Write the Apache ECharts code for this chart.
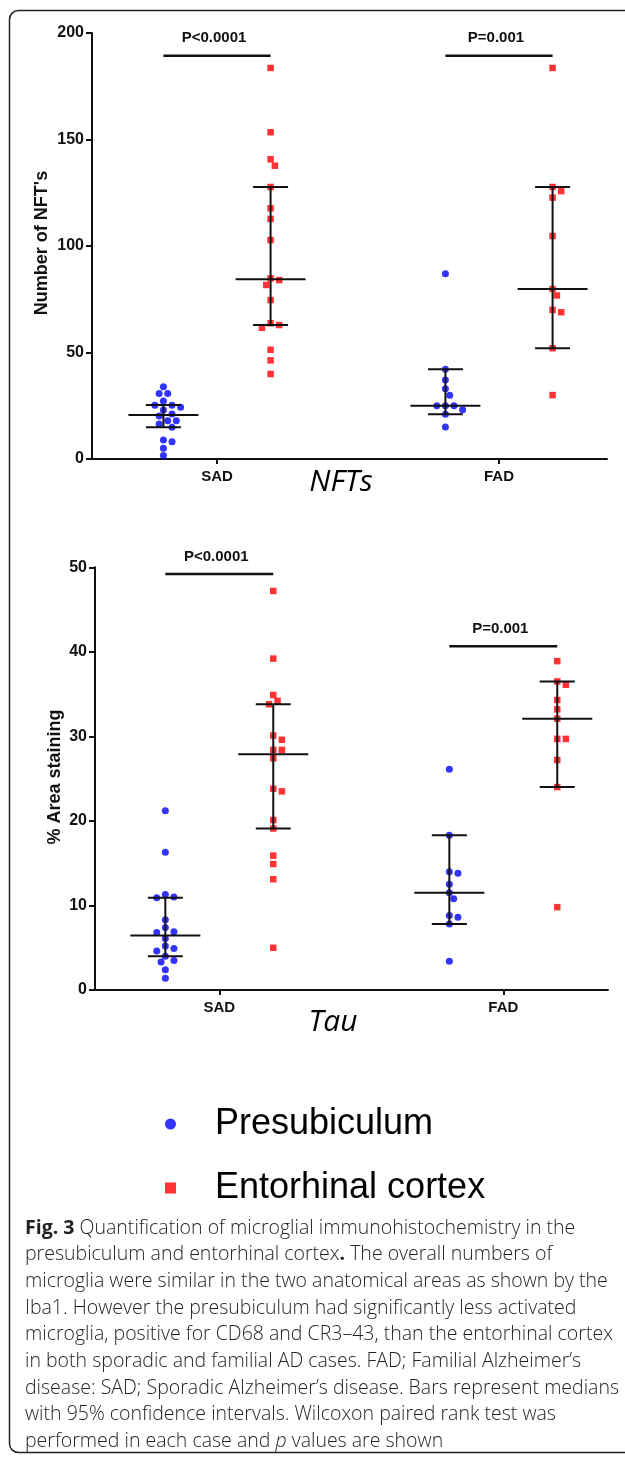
<!DOCTYPE html>
<html><head><meta charset="utf-8">
<script src="https://cdn.jsdelivr.net/npm/echarts@6/dist/echarts.min.js"></script>
<style>html,body{margin:0;padding:0;background:#fff}#c{width:625px;height:1457px}</style>
</head><body><div id="c"></div>
<script>
// ---------- DATA ----------
const groups = ['SAD', 'FAD'];
const seriesNames = ['Presubiculum', 'Entorhinal cortex'];

// Panel 1: NFTs (Number of NFT's)
const nftTicks = [0, 50, 100, 150, 200];
const nftPresSAD = [33.9, 30.8, 30.8, 27.2, 25.2, 25.2, 24.3, 23.0, 21.1, 20.2, 18.0, 18.0, 16.4, 14.9, 8.9, 8.1, 5.0, 1.7];
const nftEntSAD  = [183.6, 153.4, 140.7, 137.7, 127.7, 117.7, 112.7, 102.8, 84.8, 84.0, 81.7, 74.6, 63.7, 62.9, 61.6, 51.3, 46.3, 39.9];
const nftPresFAD = [87.0, 42.1, 37.1, 33.0, 29.9, 25.0, 25.0, 25.0, 23.1, 21.0, 15.0];
const nftEntFAD  = [183.6, 127.7, 125.8, 122.7, 104.7, 79.8, 76.8, 70.0, 68.9, 52.0, 30.0];
const nftPresMedian = [20.7, 25.0];
const nftPresCI = [[14.9, 25.4], [21.0, 42.1]];
const nftEntMedian = [84.4, 79.8];
const nftEntCI = [[62.9, 127.7], [52.0, 127.7]];
const nftPLabels = ['P<0.0001', 'P=0.001'];
const nftPLevel = [189.3, 189.3];

// Panel 2: Tau (% Area staining)
const tauTicks = [0, 10, 20, 30, 40, 50];
const tauPresSAD = [21.2, 16.3, 11.3, 10.9, 11.0, 8.3, 7.4, 6.9, 6.8, 6.1, 5.2, 4.9, 4.6, 4.0, 3.3, 3.5, 2.4, 1.4];
const tauEntSAD  = [47.2, 39.2, 34.9, 34.2, 33.8, 30.1, 29.6, 28.4, 28.4, 27.4, 23.8, 23.5, 20.1, 19.1, 15.9, 14.9, 13.1, 5.0];
const tauPresFAD = [26.1, 18.3, 14.0, 13.8, 12.5, 11.5, 10.8, 8.8, 8.6, 7.8, 3.4];
const tauEntFAD  = [38.9, 36.5, 36.1, 34.3, 33.2, 32.1, 29.7, 29.7, 27.2, 24.0, 9.8];
const tauPresMedian = [6.45, 11.5];
const tauPresCI = [[4.0, 10.9], [7.8, 18.3]];
const tauEntMedian = [27.9, 32.1];
const tauEntCI = [[19.1, 33.8], [24.0, 36.5]];
const tauPLabels = ['P<0.0001', 'P=0.001'];
const tauPLevel = [49.2, 40.66];

const captionLines = [
  '{b|Fig. 3} Quantification of microglial immunohistochemistry in the',
  'presubiculum and entorhinal cortex{b|.} The overall numbers of',
  'microglia were similar in the two anatomical areas as shown by the',
  'Iba1. However the presubiculum had significantly less activated',
  'microglia, positive for CD68 and CR3\u201343, than the entorhinal cortex',
  'in both sporadic and familial AD cases. FAD; Familial Alzheimer\u2019s',
  'disease: SAD; Sporadic Alzheimer\u2019s disease. Bars represent medians',
  'with 95% confidence intervals. Wilcoxon paired rank test was',
  'performed in each case and {i|p} values are shown'
];

// ---------- LAYOUT / STYLE ----------
const OFF = 0.19;           // horizontal offset of each region within a group
const BLUE = '#0000ff', RED = '#ff0000', INK = '#111';
const AX = '"Liberation Sans", Arial, sans-serif';
const CAP = '"Open Sans", "Noto Sans", sans-serif';

const chart = echarts.init(document.getElementById('c'), null, {renderer: 'canvas'});

function groupPos(gi) { return gi + 1; }

function yAxisCfg(ticks, gridIndex) {
  return {
    type: 'value', gridIndex, min: ticks[0], max: ticks[ticks.length - 1], interval: ticks[1] - ticks[0],
    axisLine: {show: true, lineStyle: {color: INK, width: 2}},
    axisTick: {show: true, length: 6, lineStyle: {color: INK, width: 2}},
    axisLabel: {color: '#111', fontFamily: AX, fontWeight: 'bold', fontSize: 16, margin: 8},
    splitLine: {show: false}
  };
}
function xAxisCfg(gridIndex, min, max) {
  return {
    type: 'value', gridIndex, min, max,
    axisLine: {show: true, onZero: false, lineStyle: {color: INK, width: 2}},
    axisTick: {show: true, length: 5, lineStyle: {color: INK, width: 2}, customValues: [1, 2]},
    axisLabel: {show: true, customValues: [1, 2], formatter: v => groups[Math.round(v) - 1] || '',
      color: '#111', fontFamily: AX, fontWeight: 'bold', fontSize: 15, margin: 10},
    splitLine: {show: false}
  };
}

function errRender(params, api) {
  const x = api.value(0), med = api.value(1), lo = api.value(2), hi = api.value(3);
  const pm = api.coord([x, med]), pl = api.coord([x, lo]), ph = api.coord([x, hi]);
  const st = {stroke: INK, lineWidth: 2};
  return {type: 'group', children: [
    {type: 'line', shape: {x1: pl[0], y1: pl[1], x2: ph[0], y2: ph[1]}, style: st},
    {type: 'line', shape: {x1: pm[0] - 35, y1: pm[1], x2: pm[0] + 35, y2: pm[1]}, style: st},
    {type: 'line', shape: {x1: pl[0] - 17.5, y1: pl[1], x2: pl[0] + 17.5, y2: pl[1]}, style: st},
    {type: 'line', shape: {x1: ph[0] - 17.5, y1: ph[1], x2: ph[0] + 17.5, y2: ph[1]}, style: st}
  ]};
}
function sigRender(labels) {
  return function (params, api) {
    const x1 = api.value(0), x2 = api.value(1), y = api.value(2);
    const a = api.coord([x1, y]), b = api.coord([x2, y]);
    return {type: 'group', children: [
      {type: 'line', shape: {x1: a[0], y1: a[1], x2: b[0], y2: b[1]}, style: {stroke: INK, lineWidth: 2.5}},
      {type: 'text', style: {text: labels[params.dataIndex], x: (a[0] + b[0]) / 2 - 3, y: a[1] - 17.5,
        align: 'center', verticalAlign: 'middle', fill: '#111', font: 'bold 15px ' + AX}}
    ]};
  };
}

function errData(presMed, presCI, entMed, entCI) {
  const d = [];
  groups.forEach((g, i) => {
    d.push([groupPos(i) - OFF, presMed[i], presCI[i][0], presCI[i][1]]);
    d.push([groupPos(i) + OFF, entMed[i], entCI[i][0], entCI[i][1]]);
  });
  return d;
}
function sigData(level) {
  return groups.map((g, i) => [groupPos(i) - OFF, groupPos(i) + OFF, level[i]]);
}

const panels = [
  {grid: 0, pres: [nftPresSAD, nftPresFAD], ent: [nftEntSAD, nftEntFAD]},
  {grid: 1, pres: [tauPresSAD, tauPresFAD], ent: [tauEntSAD, tauEntFAD]}
];

function centerData(arrs, sign) {
  const d = [];
  arrs.forEach((arr, gi) => arr.forEach(v => d.push([groupPos(gi) + sign * OFF, v])));
  return d;
}

const scatterSeries = [];
panels.forEach(p => {
  scatterSeries.push({id: 'pres' + p.grid, name: seriesNames[0], type: 'scatter', xAxisIndex: p.grid, yAxisIndex: p.grid,
    symbol: 'circle', symbolSize: 7, itemStyle: {color: BLUE}, data: centerData(p.pres, -1), z: 3});
  scatterSeries.push({id: 'ent' + p.grid, name: seriesNames[1], type: 'scatter', xAxisIndex: p.grid, yAxisIndex: p.grid,
    symbol: 'rect', symbolSize: 6.5, itemStyle: {color: RED}, data: centerData(p.ent, 1), z: 3});
});

// caption font size fit
const mctx = document.createElement('canvas').getContext('2d');
mctx.font = '300 18px ' + CAP;
const capW = mctx.measureText(captionLines[2]).width;
const capSize = Math.max(14, Math.min(20, 18 * 583 / capW));

const graphics = [
  {type: 'rect', shape: {x: 9.5, y: 10.5, width: 700, height: 1442, r: 9}, style: {fill: 'none', stroke: '#222', lineWidth: 1.5}, z: 0},
  {type: 'text', x: 42.5, y: 243, rotation: Math.PI / 2, style: {text: "Number of NFT's", align: 'center', verticalAlign: 'middle',
    fill: '#111', font: 'bold 18px ' + AX}},
  {type: 'text', x: 55, y: 777, rotation: Math.PI / 2, style: {text: '% Area staining', align: 'center', verticalAlign: 'middle',
    fill: '#111', font: 'bold 18px ' + AX}},
  {type: 'text', x: 341, y: 482, style: {text: 'NFTs', align: 'center', verticalAlign: 'middle', fill: '#000',
    font: 'italic 30px ' + CAP}},
  {type: 'text', x: 333, y: 1022, style: {text: 'Tau', align: 'center', verticalAlign: 'middle', fill: '#000',
    font: 'italic 30px ' + CAP}}
];
captionLines.forEach((t, i) => {
  graphics.push({type: 'text', x: 25, y: 1228 + i * 26.7, style: {text: t, align: 'left', verticalAlign: 'middle',
    fill: '#231f20', fontSize: capSize, fontFamily: CAP, fontWeight: 300,
    rich: {b: {fontWeight: 'bold', fontSize: capSize, fontFamily: CAP, fill: '#231f20'},
           i: {fontStyle: 'italic', fontSize: capSize, fontFamily: CAP, fontWeight: 300, fill: '#231f20'}}}});
});

chart.setOption({
  animation: false,
  backgroundColor: '#fff',
  grid: [
    {left: 92, top: 33, width: 515, height: 426},
    {left: 95, top: 567.3, width: 513, height: 422.7}
  ],
  xAxis: [xAxisCfg(0, 0.5567, 2.383), xAxisCfg(1, 0.5623, 2.3687)],
  yAxis: [yAxisCfg(nftTicks, 0), yAxisCfg(tauTicks, 1)],
  legend: {
    orient: 'vertical', left: 165, top: 1104, padding: 0, selectedMode: false,
    itemWidth: 11, itemHeight: 11, itemGap: 24,
    data: [{name: seriesNames[0], icon: 'circle'}, {name: seriesNames[1], icon: 'rect'}],
    textStyle: {fontSize: 36, fontFamily: AX, color: '#000', lineHeight: 40, padding: [0, 0, 0, 34]}
  },
  series: scatterSeries.concat([
    {type: 'custom', xAxisIndex: 0, yAxisIndex: 0, renderItem: errRender, data: errData(nftPresMedian, nftPresCI, nftEntMedian, nftEntCI), z: 5, silent: true},
    {type: 'custom', xAxisIndex: 1, yAxisIndex: 1, renderItem: errRender, data: errData(tauPresMedian, tauPresCI, tauEntMedian, tauEntCI), z: 5, silent: true},
    {type: 'custom', xAxisIndex: 0, yAxisIndex: 0, renderItem: sigRender(nftPLabels), data: sigData(nftPLevel), z: 5, silent: true},
    {type: 'custom', xAxisIndex: 1, yAxisIndex: 1, renderItem: sigRender(tauPLabels), data: sigData(tauPLevel), z: 5, silent: true}
  ]),
  graphic: graphics
});

// beeswarm layout in pixel space via the chart's own scales
function swarm(arrs, gridIndex, sign, diam, step) {
  const out = [];
  arrs.forEach((values, gi) => {
    const c = groupPos(gi) + sign * OFF;
    const p0 = chart.convertToPixel({gridIndex}, [c, 0]);
    const p1 = chart.convertToPixel({gridIndex}, [c + 1, 1]);
    const sx = p1[0] - p0[0], sy = p1[1] - p0[1];
    const order = values.map((v, i) => i).sort((a, b) => values[b] - values[a]);
    const placed = [];
    const res = new Array(values.length);
    order.forEach(i => {
      const py = values[i] * sy;
      let off = 0;
      for (let k = 0; k < 60; k++) {
        const cand = k === 0 ? 0 : (k % 2 ? 1 : -1) * Math.ceil(k / 2) * step;
        if (placed.every(p => Math.hypot(p[0] - cand, p[1] - py) >= diam)) { off = cand; break; }
      }
      placed.push([off, py]);
      res[i] = [c + off / sx, values[i]];
    });
    res.forEach(r => out.push(r));
  });
  return out;
}
const upd = [];
panels.forEach(p => {
  upd.push({id: 'pres' + p.grid, data: swarm(p.pres, p.grid, -1, 7, 4.3)});
  upd.push({id: 'ent' + p.grid, data: swarm(p.ent, p.grid, 1, 7, 4.3)});
});
chart.setOption({series: upd});
</script></body></html>
